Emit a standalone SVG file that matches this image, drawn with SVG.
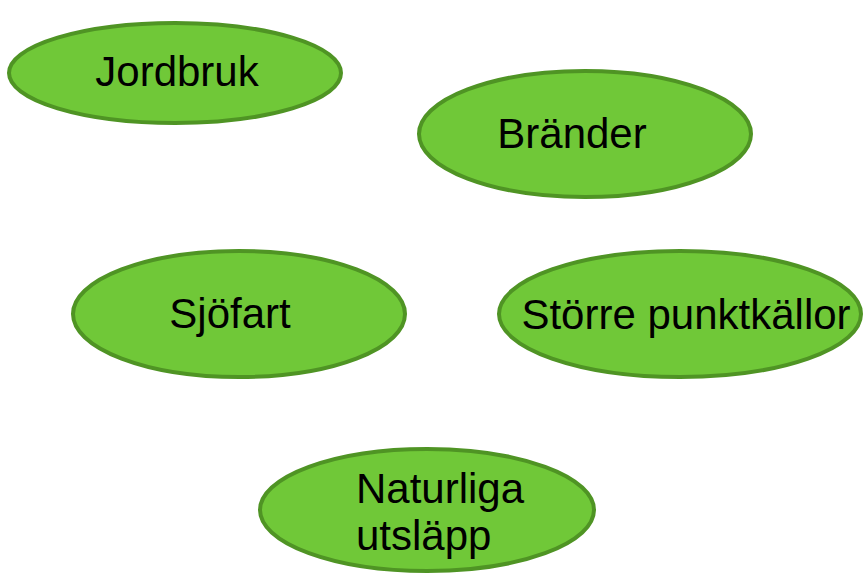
<svg xmlns="http://www.w3.org/2000/svg" width="863" height="574" viewBox="0 0 863 574">
<style>
.n{fill:#70c838;stroke:#4f9424;stroke-width:4}
.t{font-family:"Liberation Sans",Arial,sans-serif;font-size:42px;fill:#000}
</style>
<rect width="863" height="574" fill="#fff"/>
<g id="connectors"></g>
<g id="jordbruk"><ellipse class="n" cx="175" cy="73" rx="166" ry="50"/><text class="t" x="177" y="86" text-anchor="middle">Jordbruk</text></g>
<g id="brander"><ellipse class="n" cx="585" cy="134" rx="166" ry="63"/><text class="t" x="572" y="148" text-anchor="middle">Bränder</text></g>
<g id="sjofart"><ellipse class="n" cx="239" cy="314" rx="166" ry="63"/><text class="t" x="230" y="328" text-anchor="middle">Sjöfart</text></g>
<g id="storre"><ellipse class="n" cx="680" cy="314" rx="181" ry="63"/><text class="t" x="686" y="329" text-anchor="middle">Större punktkällor</text></g>
<g id="naturliga"><ellipse class="n" cx="427" cy="510" rx="167" ry="61"/><text class="t" x="356" y="503">Naturliga</text><text class="t" x="356" y="550">utsläpp</text></g>
</svg>
